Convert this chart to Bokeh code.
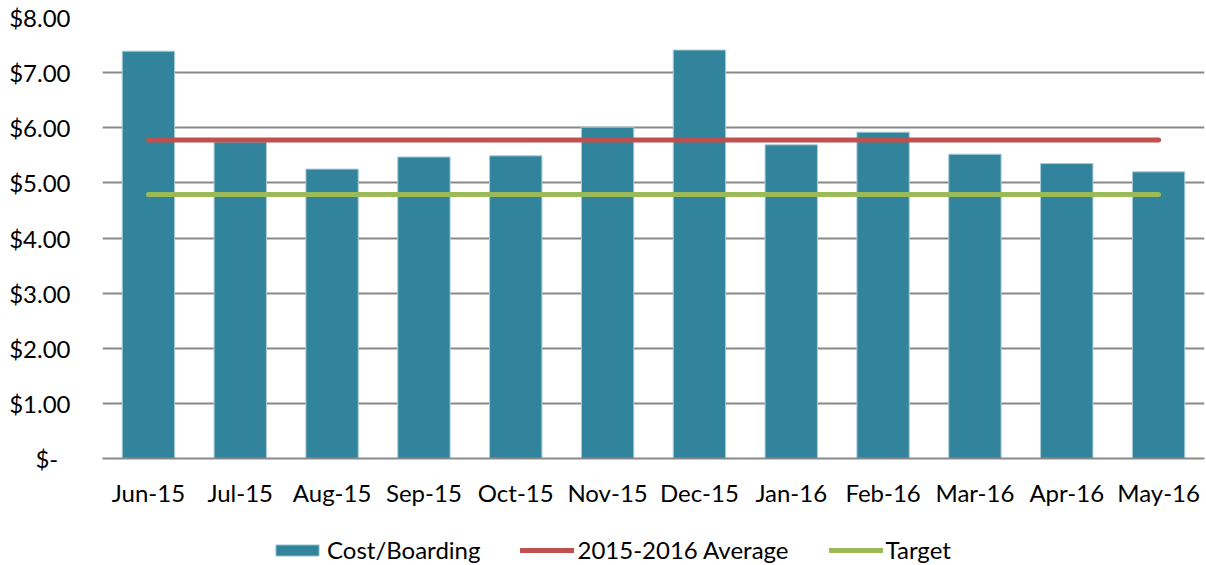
from bokeh.plotting import figure
from bokeh.layouts import column
from bokeh.models import ColumnDataSource, Legend, LegendItem, FixedTicker, CustomJSTickFormatter, Range1d
from bokeh.embed import file_html
from bokeh.resources import INLINE

months = ["Jun-15", "Jul-15", "Aug-15", "Sep-15", "Oct-15", "Nov-15",
          "Dec-15", "Jan-16", "Feb-16", "Mar-16", "Apr-16", "May-16"]
cost_per_boarding = [7.39, 5.74, 5.25, 5.47, 5.49, 6.01, 7.41, 5.69, 5.92, 5.52, 5.35, 5.20]
average_2015_2016 = [5.78] * 12
target = [4.79] * 12
y_ticks = [0, 1, 2, 3, 4, 5, 6, 7, 8]

FONT = "Lato"
BAR_COLOR = "#31849B"
BAR_EDGE = "#A9CCD8"
AVG_COLOR = "#C0504D"
TGT_COLOR = "#9BBB59"

src = ColumnDataSource(dict(m=months, c=cost_per_boarding, a=average_2015_2016, t=target))

p = figure(x_range=months, y_range=(0, 8), width=1206, height=518,
           output_backend="svg", toolbar_location=None,
           min_border_top=17, min_border_right=2, min_border_left=102, min_border_bottom=60)
p.outline_line_color = None
p.background_fill_color = "white"

p.vbar(x="m", top="c", width=0.57, source=src, fill_color=BAR_COLOR,
       line_color=BAR_EDGE, line_width=1)
p.line(x="m", y="a", source=src, line_color=AVG_COLOR, line_width=5, line_cap="round")
p.line(x="m", y="t", source=src, line_color=TGT_COLOR, line_width=5, line_cap="round")

p.yaxis.ticker = FixedTicker(ticks=y_ticks)
p.yaxis.formatter = CustomJSTickFormatter(code="""
    return tick == 0 ? "$-\u00a0\u00a0" : "$" + tick.toFixed(2);
""")
p.yaxis.axis_line_color = None
p.yaxis.major_tick_line_color = None
p.yaxis.minor_tick_line_color = None
p.yaxis.major_label_standoff = 26
p.yaxis.major_label_text_font = FONT
p.yaxis.major_label_text_font_size = "24px"
p.yaxis.major_label_text_color = "#000000"

p.xaxis.axis_line_color = "#898989"
p.xaxis.axis_line_width = 2
p.xaxis.major_tick_line_color = None
p.xaxis.minor_tick_line_color = None
p.xaxis.major_label_standoff = 13
p.xaxis.major_label_text_font = FONT
p.xaxis.major_label_text_font_size = "24px"
p.xaxis.major_label_text_color = "#000000"

p.xgrid.grid_line_color = None
p.ygrid.grid_line_color = "#898989"
p.ygrid.grid_line_width = 2

# Legend figure (placed below the chart); its glyphs lie outside its visible range
lf = figure(x_range=months, y_range=Range1d(100, 101), width=1206, height=47,
            output_backend="svg", toolbar_location=None,
            min_border_top=16, min_border_bottom=0, min_border_left=0, min_border_right=0)
lf.axis.visible = False
lf.grid.visible = False
lf.outline_line_color = None
lb = lf.vbar(x="m", top="c", width=0.57, source=src, fill_color=BAR_COLOR,
             line_color=BAR_EDGE, line_width=1)
la = lf.line(x="m", y="a", source=src, line_color=AVG_COLOR, line_width=5, line_cap="round")
lt = lf.line(x="m", y="t", source=src, line_color=TGT_COLOR, line_width=5, line_cap="round")

legend = Legend(items=[
    LegendItem(label="Cost/Boarding", renderers=[lb]),
    LegendItem(label="2015-2016 Average", renderers=[la]),
    LegendItem(label="Target", renderers=[lt]),
], orientation="horizontal", location=(168, 1))
legend.border_line_color = None
legend.background_fill_alpha = 0
legend.glyph_width = 54
legend.glyph_height = 14
legend.label_standoff = 3
legend.spacing = 40
legend.padding = 0
legend.margin = 0
legend.label_text_font = FONT
legend.label_text_font_size = "24px"
legend.label_text_color = "#000000"
lf.add_layout(legend, "center")

layout = column(p, lf, spacing=0)
open("out.html", "w").write(file_html(layout, INLINE))
